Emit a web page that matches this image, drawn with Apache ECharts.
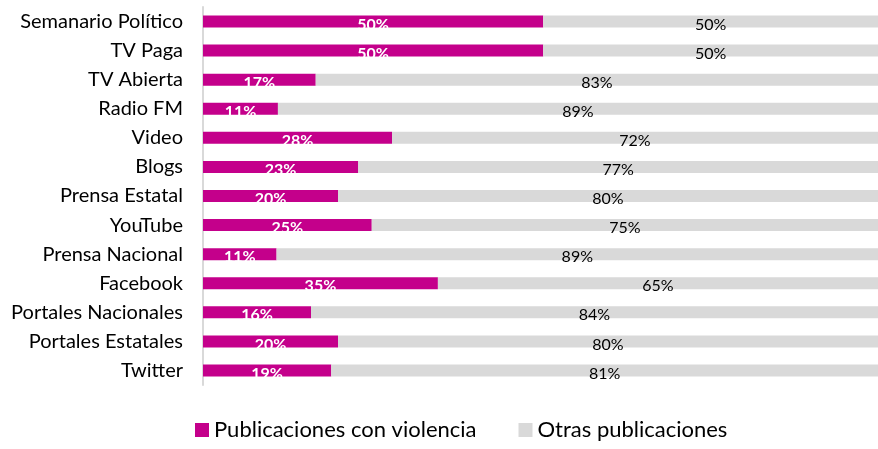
<!DOCTYPE html>
<html>
<head>
<meta charset="utf-8">
<script src="https://cdn.jsdelivr.net/npm/echarts@6/dist/echarts.min.js"></script>
<style>
  html, body { margin: 0; padding: 0; background: #fff; }
  #chart { width: 878px; height: 449px; }
</style>
</head>
<body>
<div id="chart"></div>
<script>
// categories, top to bottom as in the picture
const categories = [
  "Semanario Político", "TV Paga", "TV Abierta", "Radio FM", "Video", "Blogs",
  "Prensa Estatal", "YouTube", "Prensa Nacional", "Facebook",
  "Portales Nacionales", "Portales Estatales", "Twitter"
];
const conViolencia = [50.4, 50.4, 16.7, 11.1, 28, 23, 20, 25, 10.9, 34.8, 16, 20, 19];
const otras = [49.6, 49.6, 83.3, 88.9, 72, 77, 80, 75, 89.1, 65.2, 84, 80, 81];

const font = "Lato, 'Open Sans', sans-serif";
const myChart = echarts.init(document.getElementById("chart"));

const pct = p => Math.round(p.value) + "%";

let option = {
  animation: false,
  grid: { left: 203, right: 0, top: 7, bottom: 64 },
  legend: {
    bottom: 3,
    left: 190,
    itemWidth: 14,
    itemHeight: 14,
    itemGap: 42,
    icon: "rect",
    textStyle: { fontFamily: font, fontSize: 22, color: "#000" },
    data: ["Publicaciones con violencia", "Otras publicaciones"]
  },
  xAxis: {
    type: "value",
    min: 0,
    max: 100,
    show: false
  },
  yAxis: {
    type: "category",
    inverse: true,
    data: categories,
    axisLine: { show: true, lineStyle: { color: "#d9d9d9", width: 2 } },
    axisTick: { show: false },
    axisLabel: { fontFamily: font, fontSize: 20, color: "#000", margin: 20 }
  },
  series: [
    {
      name: "Publicaciones con violencia",
      type: "bar",
      stack: "total",
      barWidth: 12,
      itemStyle: { color: "#c4008b" },
      label: {
        show: true,
        position: "inside",
        offset: [0, 3],
        formatter: pct,
        fontFamily: font,
        fontSize: 16,
        fontWeight: "bold",
        color: "#fff"
      },
      data: conViolencia
    },
    {
      name: "Otras publicaciones",
      type: "bar",
      stack: "total",
      barWidth: 12,
      itemStyle: { color: "#d9d9d9" },
      label: {
        show: true,
        position: "inside",
        offset: [0, 3],
        formatter: pct,
        fontFamily: font,
        fontSize: 16,
        color: "#000"
      },
      data: otras
    }
  ]
};
myChart.setOption(option);
</script>
</body>
</html>
